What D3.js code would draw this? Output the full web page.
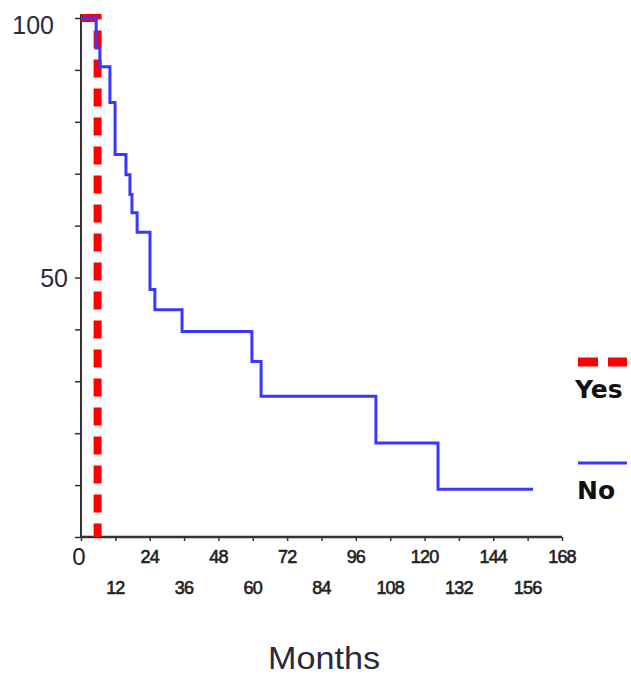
<!DOCTYPE html>
<html lang="en">
<head>
<meta charset="UTF-8" />
<title>Survival</title>
<script src="https://d3js.org/d3.v7.min.js"></script>
<style>
  body { margin: 0; background: #fff; }
  .curve { fill: none; }
  .axis path, .axis line { stroke: #333; }
</style>
</head>
<body>
<script>
// months at which the curve steps, and survival (%) after each step
var noTimes = [0, 5.3, 6.6, 10.1, 11.9, 15.7, 17.1, 17.8, 19.6, 24.1, 25.8, 35.3, 59.7, 62.9, 103, 124.7, 157.9];
var noSurv  = [100, 94.2, 90.6, 83.7, 73.7, 69.8, 66.0, 62.5, 58.7, 47.7, 43.8, 39.6, 33.8, 27.1, 18.1, 9.2, 9.2];
var yesTimes = [0, 5.8];
var yesSurv  = [100, 0];

var xTicks = [0, 12, 24, 36, 48, 60, 72, 84, 96, 108, 120, 132, 144, 156, 168];
var yTicks = [0, 10, 20, 30, 40, 50, 60, 70, 80, 90, 100];
var yLabels = [50, 100];
var groups = ["Yes", "No"];

var width = 631, height = 681;
var svg = d3.select("body").append("svg").attr("width", width).attr("height", height)
  .style("font-family", "'Liberation Sans', Arial, sans-serif");

var x = d3.scaleLinear().domain([0, 168]).range([81, 562]);
var y = d3.scaleLinear().domain([0, 100]).range([537, 18]);

// y axis
var yAxis = svg.append("g").attr("class", "axis").attr("transform", "translate(81,0)")
  .call(d3.axisLeft(y).tickValues(yTicks).tickSize(6).tickFormat(""));
yAxis.select(".domain").attr("d", "M0,14V538").attr("stroke-width", 2);
yAxis.selectAll(".tick line").attr("stroke-width", 1.5);

svg.selectAll(".ylab").data(yLabels).enter().append("text")
  .attr("class", "ylab")
  .attr("x", function(d) { return d == 100 ? 54 : 68; })
  .attr("y", function(d) { return y(d) + (d == 100 ? 16 : 9); })
  .attr("text-anchor", "end")
  .attr("font-size", 25)
  .attr("fill", "#2a2a3a")
  .text(function(d) { return d; });

// x axis
var xAxis = svg.append("g").attr("class", "axis").attr("transform", "translate(0,537)")
  .call(d3.axisBottom(x).tickValues(xTicks).tickSize(4).tickFormat(""));
xAxis.select(".domain").attr("d", "M81,0H562").attr("stroke-width", 2.5);
xAxis.selectAll(".tick line").attr("stroke-width", 1.5);

svg.selectAll(".xlab").data(xTicks).enter().append("text")
  .attr("class", "xlab")
  .attr("x", function(d) { return x(d) - (d == 0 ? 2 : 0); })
  .attr("y", function(d) {
    if (d == 0) return 565;
    return (d / 12) % 2 == 0 ? 563 : 594;
  })
  .attr("text-anchor", "middle")
  .attr("font-size", function(d) { return d == 0 ? 24 : 18; })
  .attr("letter-spacing", function(d) { return d == 0 ? 0 : -0.8; })
  .attr("fill", "#222")
  .attr("stroke", "#222")
  .attr("stroke-width", function(d) { return d == 0 ? 0 : 0.6; })
  .text(function(d) { return d; });

svg.append("text")
  .attr("x", 324).attr("y", 669)
  .attr("text-anchor", "middle")
  .attr("font-size", 31)
  .attr("textLength", 112)
  .attr("lengthAdjust", "spacingAndGlyphs")
  .attr("fill", "#2a2a3a")
  .text("Months");

// curves
var line = d3.line()
  .x(function(d) { return x(d[0]); })
  .y(function(d) { return y(d[1]); })
  .curve(d3.curveStepAfter);

svg.append("path").attr("class", "curve")
  .datum(d3.zip(yesTimes, yesSurv))
  .attr("d", line)
  .attr("stroke", "#ff0000")
  .attr("stroke-width", 8)
  .attr("stroke-dasharray", "18,11");

svg.append("path").attr("class", "curve")
  .datum(d3.zip(noTimes, noSurv))
  .attr("d", line)
  .attr("stroke", "#3838ff")
  .attr("stroke-width", 3);

// legend
var legend = svg.selectAll(".leg").data(groups).enter().append("g")
  .attr("class", "leg")
  .attr("transform", function(d, i) { return "translate(0," + (362 + i * 101) + ")"; });

legend.append("line")
  .attr("x1", 578).attr("x2", 627).attr("y1", 0).attr("y2", 0)
  .attr("stroke", function(d) { return d == "Yes" ? "#ff0000" : "#3838ff"; })
  .attr("stroke-width", function(d) { return d == "Yes" ? 9 : 3; })
  .attr("stroke-dasharray", function(d) { return d == "Yes" ? "20,10" : null; });

legend.append("text")
  .attr("x", function(d) { return d == "Yes" ? 575 : 577; })
  .attr("y", 36)
  .attr("font-family", "'DejaVu Sans', sans-serif")
  .attr("font-weight", "bold")
  .attr("font-size", 25)
  .attr("fill", "#111")
  .text(function(d) { return d; });
</script>
</body>
</html>
